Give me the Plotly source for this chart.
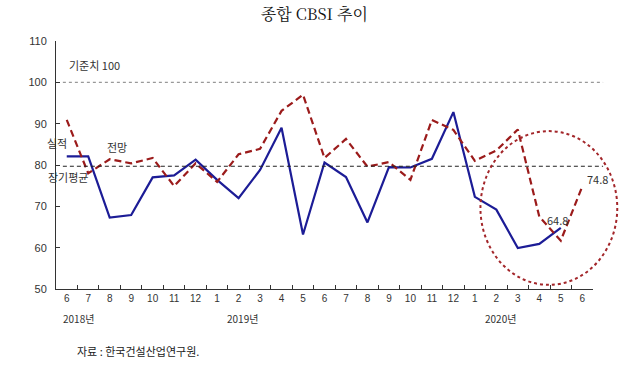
import plotly.graph_objects as go

# ---- data ----
months = ["6", "7", "8", "9", "10", "11", "12",
          "1", "2", "3", "4", "5", "6", "7", "8", "9", "10", "11", "12",
          "1", "2", "3", "4", "5", "6"]
years = [2018] * 7 + [2019] * 12 + [2020] * 6
actual = [82.1, 82.1, 67.3, 67.9, 77.0, 77.5, 81.3, 76.4, 72.0, 78.8, 89.0, 63.2,
          80.6, 77.1, 66.1, 79.5, 79.4, 81.5, 92.8, 72.3, 69.2, 59.9, 60.9, 64.8, None]
forecast = [90.9, 78.0, 81.4, 80.4, 81.7, 74.9, 80.4, 75.9, 82.6, 83.9, 93.1, 97.0,
            81.7, 86.3, 79.6, 80.7, 76.4, 90.9, 88.5, 81.0, 83.5, 88.6, 67.5, 61.7, 74.8]
baseline = 100
long_avg = 79.7
year_labels = ["2018년", "2019년", "2020년"]
year_label_pos = [0.55, 8.2, 20.2]

keys = [f"{y}-{m}" for y, m in zip(years, months)]
n = len(keys)

YMIN, YMAX = 50, 110
def px(i):  # category index -> paper x
    return (i + 0.5) / n
def py(v):  # value -> paper y
    return (v - YMIN) / (YMAX - YMIN)

fig = go.Figure()
fig.add_trace(go.Scatter(x=keys, y=actual, mode="lines", name="실적",
                         line=dict(color="#1c1c96", width=2.2), connectgaps=False))
fig.add_trace(go.Scatter(x=keys, y=forecast, mode="lines", name="전망",
                         line=dict(color="#9b1b1b", width=2.2, dash="7px,4px")))

shapes = [
    dict(type="line", xref="paper", yref="paper", x0=px(-0.18), x1=px(24.97),
         y0=py(baseline), y1=py(baseline), line=dict(color="#999999", width=1.2, dash="dot")),
    dict(type="line", xref="paper", yref="paper", x0=px(-0.18), x1=px(24.97),
         y0=py(long_avg), y1=py(long_avg), line=dict(color="#222222", width=1.1, dash="4px,3px")),
    dict(type="circle", xref="paper", yref="paper", x0=px(19.26), x1=px(25.63),
         y0=py(51.0), y1=py(88.2), line=dict(color="#a3262a", width=2, dash="dot")),
]

kfont = dict(family="Noto Sans CJK KR, sans-serif", size=11, color="#333333")
ann = []
def add(text, i, v, **kw):
    ann.append(dict(text=text, x=px(i), y=py(v), xref="paper", yref="paper",
                    xanchor="center", yanchor="middle",
                    showarrow=False, font=kfont, **kw))

add("기준치 100", 1.3, 104.2)
add("실적", -0.47, 85.3)
add("전망", 2.33, 84.4)
add("장기평균", 0.05, 77.1)
add("64.8", 22.84, 66.7)
add("74.8", 24.7, 76.6)
for t, p in zip(year_labels, year_label_pos):
    ann.append(dict(text=t, x=px(p), y=-0.117, xref="paper", yref="paper",
                    xanchor="center", yanchor="middle", showarrow=False,
                    font=dict(family="Noto Sans CJK KR, sans-serif", size=10, color="#333333")))
ann.append(dict(text="자료 : 한국건설산업연구원.", x=0.035, y=-0.25, xref="paper", yref="paper",
                xanchor="left", yanchor="middle", showarrow=False,
                font=dict(family="Noto Sans CJK KR, sans-serif", size=11, color="#222222")))

fig.update_layout(
    width=620, height=368,
    margin=dict(l=56, r=27, t=41, b=79),
    paper_bgcolor="white", plot_bgcolor="white",
    showlegend=False,
    title=dict(text="종합 CBSI 추이", x=0.507, xanchor="center", xref="container",
               y=1 - 14 / 368, yanchor="middle", yref="container",
               font=dict(family="Noto Serif CJK KR, DejaVu Serif, serif", size=16, color="#111111")),
    shapes=shapes,
    annotations=ann,
    xaxis=dict(type="category", range=[-0.5, n - 0.5], tickmode="array",
               tickvals=keys, ticktext=months, tickson="boundaries",
               ticks="inside", ticklen=4, tickcolor="#333333",
               showline=True, linecolor="#333333", linewidth=1, showgrid=False,
               tickfont=dict(family="Liberation Sans, Arial, sans-serif", size=10, color="#333333")),
    yaxis=dict(range=[YMIN, YMAX], dtick=10, ticks="inside", ticklen=4, tickcolor="#333333",
               showline=True, linecolor="#333333", linewidth=1, showgrid=False, zeroline=False,
               ticklabelstandoff=6,
               tickfont=dict(family="Liberation Sans, Arial, sans-serif", size=11, color="#333333")),
)

# remove the browser's default 8px page margin so the 620x368 figure fills the window
fig.write_html("out.html",
               config={"displayModeBar": False},
               post_script="document.body.style.margin='0';document.body.style.overflow='hidden';")
